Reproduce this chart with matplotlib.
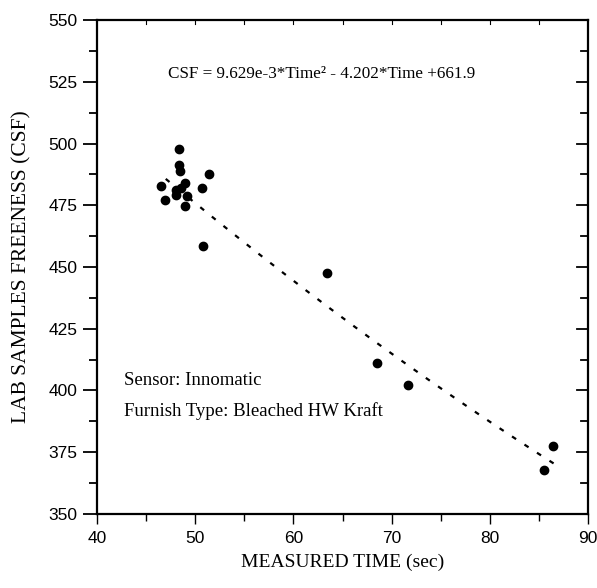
import matplotlib
matplotlib.use("Agg")
import matplotlib.pyplot as plt
import numpy as np
from matplotlib.ticker import MultipleLocator

# measured time (sec) vs lab CSF
time_sec = [48.4, 48.4, 48.5, 51.4, 46.5, 49.0, 48.6, 48.0, 48.0, 50.7,
            46.9, 49.2, 49.0, 50.8, 63.4, 68.5, 71.7, 85.5, 86.4]
csf = [497.8, 491.2, 488.8, 487.5, 482.8, 484.1, 481.9, 481.1, 479.1, 481.9,
       477.3, 478.8, 474.5, 458.4, 447.4, 411.2, 402.3, 367.7, 377.5]

# fit coefficients (from the equation on the chart)
coef = [9.629e-3, -4.202, 661.9]
fit_range = [47.0, 86.5]

serif = "Liberation Serif"
sans = "Liberation Sans"

fig = plt.figure(figsize=(5.97, 5.88), dpi=100)
ax = fig.add_axes([97/597, 1 - 514/588, (588-97)/597, (514-20)/588])

t = np.linspace(fit_range[0], fit_range[1], 200)
ax.plot(t, np.polyval(coef, t), color="black", lw=1.6, ls=(0, (2.2, 4.5)))
ax.scatter(time_sec, csf, s=36, color="black", zorder=3)

ax.set_xlim(40, 90)
ax.set_ylim(350, 550)
ax.xaxis.set_major_locator(MultipleLocator(10))
ax.xaxis.set_minor_locator(MultipleLocator(5))
ax.yaxis.set_major_locator(MultipleLocator(25))
ax.yaxis.set_minor_locator(MultipleLocator(12.5))

for s in ax.spines.values():
    s.set_linewidth(1.6)

ax.tick_params(axis="y", which="major", direction="out", length=10, width=1.3,
               right=False, labelsize=12.5, pad=4)
ax.tick_params(axis="y", which="minor", direction="out", length=6, width=1.3)
ax.tick_params(axis="x", which="major", direction="out", length=7, width=1.0,
               top=False, labelsize=12.5, pad=5)
ax.tick_params(axis="x", which="minor", direction="out", length=5, width=1.0)
for lab in ax.get_xticklabels() + ax.get_yticklabels():
    lab.set_family(sans)

# inward ticks on the right and top spines
for v in np.arange(362.5, 550, 12.5):
    ln = 11 if v % 25 == 0 else 7
    ax.plot([1, 1 - ln / 491], [v, v], transform=ax.get_yaxis_transform(),
            color="black", lw=1.3, clip_on=False)
for v in np.arange(45, 90, 5):
    ax.plot([v, v], [1, 1 - 4 / 494], transform=ax.get_xaxis_transform(),
            color="black", lw=0.8, clip_on=False)

ax.set_xlabel("MEASURED TIME (sec)", family=serif, fontsize=14, labelpad=6)
ax.set_ylabel("LAB SAMPLES FREENESS (CSF)", family=serif, fontsize=15.5, labelpad=12)

ax.text(62.9, 528, "CSF = 9.629e-3*Time\u00b2 - 4.202*Time +661.9", family=serif,
        fontsize=12.3, ha="center", va="center")
ax.text(42.8, 404, "Sensor: Innomatic", family=serif, fontsize=13.5, va="center")
ax.text(42.8, 391.5, "Furnish Type: Bleached HW Kraft", family=serif, fontsize=13.5,
        va="center")

fig.savefig("out.png", dpi=100)
